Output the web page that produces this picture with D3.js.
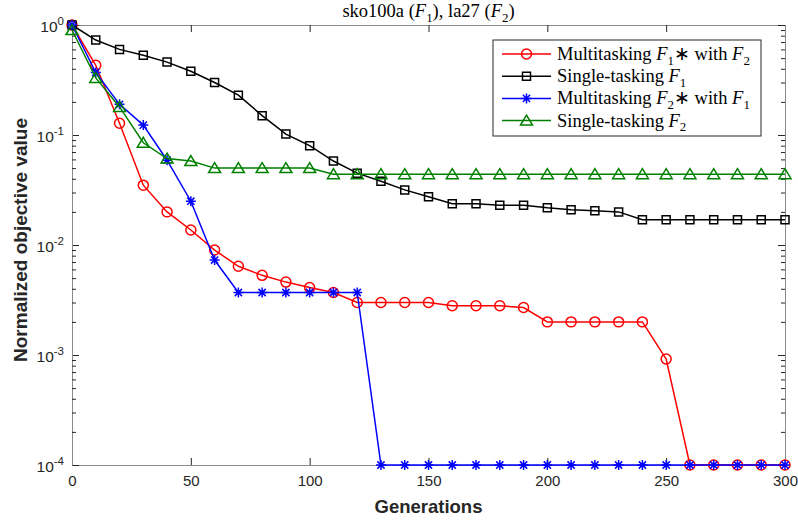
<!DOCTYPE html>
<html>
<head>
<meta charset="utf-8">
<script src="https://cdn.jsdelivr.net/npm/d3@7"></script>
<style>
  body { margin: 0; background: #fff; }
  svg { display: block; }
</style>
</head>
<body>
<svg width="798" height="520"></svg>
<script>
// generations sampled every 10
const generations = [0, 10, 20, 30, 40, 50, 60, 70, 80, 90, 100, 110, 120, 130, 140, 150,
  160, 170, 180, 190, 200, 210, 220, 230, 240, 250, 260, 270, 280, 290, 300];

const multiF1 = [1, 0.43, 0.128, 0.035, 0.020, 0.0137, 0.009, 0.0064, 0.0053, 0.0046, 0.0041,
  0.0037, 0.0030, 0.0030, 0.0030, 0.0030, 0.0028, 0.0028, 0.0028, 0.0027, 0.0020, 0.0020,
  0.0020, 0.0020, 0.0020, 0.00092, 0.0001, 0.0001, 0.0001, 0.0001, 0.0001];

const singleF1 = [1, 0.73, 0.60, 0.53, 0.46, 0.38, 0.30, 0.23, 0.15, 0.102, 0.080, 0.058,
  0.045, 0.038, 0.0317, 0.0275, 0.0237, 0.0237, 0.023, 0.023, 0.0218, 0.0209, 0.0205,
  0.020, 0.017, 0.017, 0.017, 0.017, 0.017, 0.017, 0.017];

const multiF2 = [1, 0.37, 0.19, 0.123, 0.059, 0.025, 0.0073, 0.0037, 0.0037, 0.0037, 0.0037,
  0.0037, 0.0037, 0.0001, 0.0001, 0.0001, 0.0001, 0.0001, 0.0001, 0.0001, 0.0001, 0.0001,
  0.0001, 0.0001, 0.0001, 0.0001, 0.0001, 0.0001, 0.0001, 0.0001, 0.0001];

const singleF2 = [0.9, 0.33, 0.18, 0.085, 0.061, 0.058, 0.050, 0.050, 0.050, 0.050, 0.050,
  0.044, 0.044, 0.044, 0.044, 0.044, 0.044, 0.044, 0.044, 0.044, 0.044, 0.044, 0.044,
  0.044, 0.044, 0.044, 0.044, 0.044, 0.044, 0.044, 0.044];

const xTicks = [0, 50, 100, 150, 200, 250, 300];
const yTickExps = [0, -1, -2, -3, -4];

// text pieces: [text, style]  style: "" normal, "i" italic, "sub" subscript
const titleParts = [["sko100a (", ""], ["F", "i"], ["1", "sub"], ["), la27 (", ""], ["F", "i"], ["2", "sub"], [")", ""]];

const series = [
  { values: multiF1, color: "#ff0000", marker: "circle",
    label: [["Multitasking ", ""], ["F", "i"], ["1", "sub"], ["\u2217 with ", ""], ["F", "i"], ["2", "sub"]] },
  { values: singleF1, color: "#000000", marker: "square",
    label: [["Single-tasking ", ""], ["F", "i"], ["1", "sub"]] },
  { values: multiF2, color: "#0000ff", marker: "star",
    label: [["Multitasking ", ""], ["F", "i"], ["2", "sub"], ["\u2217 with ", ""], ["F", "i"], ["1", "sub"]] },
  { values: singleF2, color: "#008000", marker: "triangle",
    label: [["Single-tasking ", ""], ["F", "i"], ["2", "sub"]] }
];

const svg = d3.select("svg");
const margin = { left: 72, right: 13, top: 25, bottom: 55 };
const width = 798, height = 520;
const x0 = margin.left, x1 = width - margin.right;
const y0 = margin.top, y1 = height - margin.bottom;

const scaleX = d3.scaleLinear().domain([0, 300]).range([x0, x1]);
const scaleY = d3.scaleLog().domain([1e-4, 1]).range([y1, y0]);

const sans = "'Liberation Sans', Arial, sans-serif";
const serif = "'Liberation Serif', 'Times New Roman', serif";
const axisGray = "#262626";

// minor ticks for log axis
const minors = [];
for (let e = -4; e < 0; e++) {
  for (let k = 2; k <= 9; k++) minors.push(k * Math.pow(10, e));
}
const majors = yTickExps.map(e => Math.pow(10, e));

function styleAxis(g) {
  g.select(".domain").attr("stroke", "#8a8a8a").attr("stroke-width", 1);
  g.selectAll(".tick line").attr("stroke", axisGray).attr("stroke-width", 1);
  g.selectAll(".tick text").attr("fill", axisGray);
  g.attr("font-family", sans).attr("font-size", 15);
}

// bottom & top
svg.append("g").attr("transform", `translate(0,${y1})`)
  .call(d3.axisBottom(scaleX).tickValues(xTicks).tickSize(-7).tickSizeOuter(0).tickPadding(10))
  .call(styleAxis);
svg.append("g").attr("transform", `translate(0,${y0})`)
  .call(d3.axisTop(scaleX).tickValues(xTicks).tickSize(-7).tickSizeOuter(0).tickFormat(""))
  .call(styleAxis);

// left & right
svg.append("g").attr("transform", `translate(${x0},0)`)
  .call(d3.axisLeft(scaleY).tickValues(majors).tickSize(-7).tickSizeOuter(0).tickFormat(""))
  .call(styleAxis);
svg.append("g").attr("transform", `translate(${x0},0)`)
  .call(d3.axisLeft(scaleY).tickValues(minors).tickSize(-4).tickSizeOuter(0).tickFormat(""))
  .call(styleAxis);
svg.append("g").attr("transform", `translate(${x1},0)`)
  .call(d3.axisRight(scaleY).tickValues(majors).tickSize(-7).tickSizeOuter(0).tickFormat(""))
  .call(styleAxis);
svg.append("g").attr("transform", `translate(${x1},0)`)
  .call(d3.axisRight(scaleY).tickValues(minors).tickSize(-4).tickSizeOuter(0).tickFormat(""))
  .call(styleAxis);

// y tick labels 10^e
yTickExps.forEach(e => {
  const t = svg.append("text")
    .attr("x", x0 - 8)
    .attr("y", scaleY(Math.pow(10, e)) + 7)
    .attr("text-anchor", "end")
    .attr("font-family", sans)
    .attr("fill", axisGray);
  t.append("tspan").attr("font-size", 15.5).text("10");
  t.append("tspan").attr("font-size", 11.5).attr("dy", -7).text(e === 0 ? "0" : "-" + Math.abs(e));
});

// axis labels
svg.append("text")
  .attr("x", (x0 + x1) / 2).attr("y", 513)
  .attr("text-anchor", "middle")
  .attr("font-family", sans).attr("font-size", 18.5).attr("font-weight", "bold")
  .attr("fill", axisGray)
  .text("Generations");

svg.append("text")
  .attr("transform", `translate(27,240) rotate(-90)`)
  .attr("text-anchor", "middle")
  .attr("font-family", sans).attr("font-size", 19).attr("font-weight", "bold")
  .attr("fill", axisGray)
  .text("Normalized objective value");

function mathText(sel, parts, size) {
  let shifted = false;
  parts.forEach(([txt, st]) => {
    const ts = sel.append("tspan").text(txt);
    if (st === "i") ts.attr("font-style", "italic");
    if (st === "sub") {
      ts.attr("font-size", size * 0.7).attr("dy", size * 0.25);
      shifted = true;
    } else if (shifted) {
      ts.attr("dy", -size * 0.25);
      shifted = false;
    }
  });
}

// title
const title = svg.append("text")
  .attr("x", (x0 + x1) / 2).attr("y", 17)
  .attr("text-anchor", "middle")
  .attr("font-family", serif).attr("font-size", 18.5)
  .attr("fill", "#000");
mathText(title, titleParts, 18.5);

// markers
function markerPath(type) {
  if (type === "square") return "M-4,-4H4V4H-4Z";
  if (type === "triangle") return "M0,-5.5L6,4.5H-6Z";
  if (type === "star") return "M-5,0H5M0,-5V5M-3.6,-3.6L3.6,3.6M-3.6,3.6L3.6,-3.6";
  return d3.symbol(d3.symbolCircle, 78)();
}

const plot = svg.append("g");
const line = d3.line()
  .x((d, i) => scaleX(generations[i]))
  .y(d => scaleY(d));

series.forEach(s => {
  plot.append("path")
    .datum(s.values)
    .attr("fill", "none")
    .attr("stroke", s.color)
    .attr("stroke-width", 1.5)
    .attr("d", line);
  plot.selectAll(null)
    .data(s.values)
    .enter().append("path")
    .attr("transform", (d, i) => `translate(${scaleX(generations[i])},${scaleY(d)})`)
    .attr("d", markerPath(s.marker))
    .attr("fill", "none")
    .attr("stroke", s.color)
    .attr("stroke-width", 1.5);
});

// legend
const legend = svg.append("g");
legend.append("rect")
  .attr("x", 493).attr("y", 40)
  .attr("width", 268).attr("height", 96)
  .attr("fill", "#fff")
  .attr("stroke", axisGray).attr("stroke-width", 1);

series.forEach((s, i) => {
  const ly = 54 + i * 22.2;
  legend.append("line")
    .attr("x1", 502).attr("x2", 551).attr("y1", ly).attr("y2", ly)
    .attr("stroke", s.color).attr("stroke-width", 1.5);
  legend.append("path")
    .attr("transform", `translate(526.5,${ly})`)
    .attr("d", markerPath(s.marker))
    .attr("fill", "none").attr("stroke", s.color).attr("stroke-width", 1.5);
  const t = legend.append("text")
    .attr("x", 557).attr("y", ly + 6)
    .attr("font-family", serif).attr("font-size", 18.5)
    .attr("fill", "#000");
  mathText(t, s.label, 18.5);
});
</script>
</body>
</html>
